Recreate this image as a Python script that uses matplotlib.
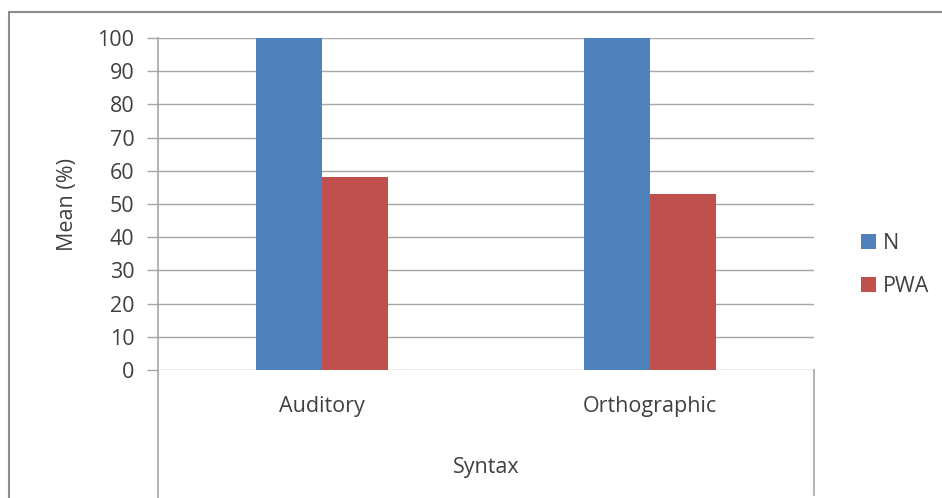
import matplotlib

matplotlib.use("Agg")

import matplotlib.pyplot as plt
import numpy as np
from matplotlib.lines import Line2D
from matplotlib.patches import Rectangle

plt.rcParams["font.family"] = ["Open Sans", "DejaVu Sans"]

categories = ["Auditory", "Orthographic"]
series_names = ["N", "PWA"]
n_values = [100, 100]
pwa_values = [58, 53]
yticks = list(range(0, 101, 10))

BLUE = "#4F81BD"
RED = "#C0504D"
GRID = "#A6A6A6"
TEXT = "#404040"
FS = 15.5

W, H = 942, 498
fig = plt.figure(figsize=(W / 100, H / 100), dpi=100)

# outer chart border (Excel style)
fig.add_artist(Rectangle((9 / W, -0.01), 1.02, 1 - 12 / H + 0.01,
                         transform=fig.transFigure, fill=False,
                         edgecolor="#8C8C8C", lw=1.5))

x0, x1, ytop, ybot = 158, 814, 38, 370
ax = fig.add_axes([x0 / W, 1 - ybot / H, (x1 - x0) / W, (ybot - ytop) / H])

x = np.arange(len(categories))
bw = 0.2
ax.bar(x - bw / 2, n_values, bw, color=BLUE, label=series_names[0], zorder=3)
ax.bar(x + bw / 2, pwa_values, bw, color=RED, label=series_names[1], zorder=3)

ax.set_xlim(-0.5, len(categories) - 0.5)
ax.set_ylim(0, 100)
ax.set_yticks(yticks)
ax.set_yticklabels([str(t) for t in yticks], fontsize=FS, color=TEXT)
ax.tick_params(axis="y", length=8, width=1, color=GRID, pad=9)
ax.tick_params(axis="x", length=0, labelbottom=False)
ax.grid(axis="y", color=GRID, lw=1, zorder=0)
for s in ["top", "right", "bottom", "left"]:
    ax.spines[s].set_visible(False)

# category labels and outer "Syntax" level
for xi, c in zip(x, categories):
    ax.text(xi, -11, c, ha="center", va="center", fontsize=FS, color=TEXT,
            clip_on=False)
ax.text(0.5, -29.5, "Syntax", ha="center", va="center", fontsize=FS,
        color=TEXT, clip_on=False)
ax.set_ylabel("Mean (%)", fontsize=FS, color=TEXT, labelpad=14)

# axis / separator lines of the multi-level category axis
fig.add_artist(Line2D([x0 / W, x0 / W], [1 - ytop / H, 0.0],
                      transform=fig.transFigure, color=GRID, lw=1.2))
fig.add_artist(Line2D([x1 / W, x1 / W], [1 - ybot / H, 1 - 495 / H],
                      transform=fig.transFigure, color=GRID, lw=1.2))

fig.legend(loc="upper left", bbox_to_anchor=(842 / W, 1 - 214 / H),
           frameon=False, fontsize=FS, handlelength=0.7, handleheight=0.7,
           handletextpad=0.3, labelspacing=1.0, labelcolor=TEXT)

fig.savefig("out.png", dpi=100)
